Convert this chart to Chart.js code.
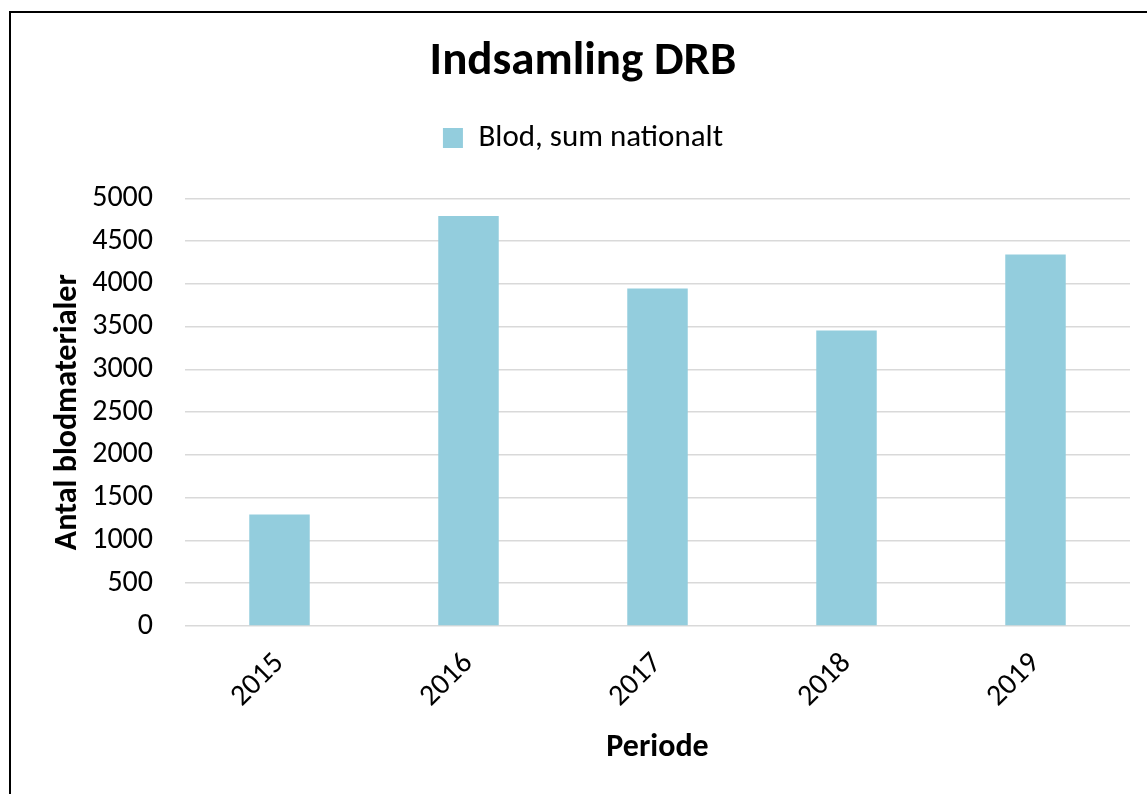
<!DOCTYPE html>
<html>
<head>
<meta charset="utf-8">
<script src="https://cdn.jsdelivr.net/npm/chart.js@4.4.1/dist/chart.umd.min.js"></script>
<style>
  html, body { margin: 0; padding: 0; background: #fff; overflow: hidden; }
  #wrap { position: relative; width: 1147px; height: 794px; }
  #frame { position: absolute; left: 9px; top: 11px; width: 1300px; height: 900px;
           border-left: 2px solid #000; border-top: 2px solid #000; pointer-events: none; }
  canvas { position: absolute; left: 0; top: 0; }
</style>
</head>
<body>
<div id="wrap">
  <canvas id="myChart" width="1147" height="794"></canvas>
  <div id="frame"></div>
</div>
<script>
// chart data
var years = ['2015', '2016', '2017', '2018', '2019'];
var blodSum = [1305, 4795, 3945, 3455, 4345];
var yTicks = [0, 500, 1000, 1500, 2000, 2500, 3000, 3500, 4000, 4500, 5000];

var fontFam = "Carlito, Calibri, Lato, sans-serif";

// extra space under the legend
var legendGap = {
    id: 'legendGap',
    beforeInit: function(chart) {
        var fit = chart.legend.fit;
        chart.legend.fit = function() {
            fit.bind(chart.legend)();
            this.height += 35;
        };
    }
};

var ctx = document.getElementById('myChart').getContext('2d');
var myChart = new Chart(ctx, {
    type: 'bar',
    data: {
        labels: years,
        datasets: [{
            label: 'Blod, sum nationalt',
            data: blodSum,
            backgroundColor: '#93cddd',
            borderWidth: 0,
            barPercentage: 0.32,
            categoryPercentage: 1
        }]
    },
    options: {
        responsive: false,
        animation: false,
        layout: { padding: { left: 36, right: 17, top: 0, bottom: 0 } },
        plugins: {
            title: {
                display: true,
                text: 'Indsamling DRB',
                color: '#000',
                font: { family: fontFam, size: 47, weight: 'bold' },
                padding: { top: 34, bottom: 22 }
            },
            legend: {
                display: true,
                labels: {
                    color: '#000',
                    font: { family: fontFam, size: 31 },
                    boxWidth: 20,
                    boxHeight: 20,
                    padding: 10
                }
            },
            tooltip: { enabled: false }
        },
        scales: {
            x: {
                grid: { display: false },
                border: { display: false },
                ticks: {
                    color: '#000',
                    font: { family: fontFam, size: 30 },
                    minRotation: 45,
                    maxRotation: 45,
                    padding: 12
                },
                title: {
                    display: true,
                    text: 'Periode',
                    color: '#000',
                    font: { family: fontFam, size: 32, weight: 'bold' },
                    padding: { top: 0, bottom: 27 }
                },
                afterFit: function(scale) { scale.height = 168; }
            },
            y: {
                min: 0,
                max: 5000,
                afterBuildTicks: function(scale) {
                    scale.ticks = yTicks.map(function(v) { return { value: v }; });
                },
                grid: { color: '#d9d9d9', lineWidth: 1.5, drawTicks: false },
                border: { display: false },
                ticks: {
                    color: '#000',
                    font: { family: fontFam, size: 30 },
                    padding: 32,
                    callback: function(v) { return String(v); }
                },
                title: {
                    display: true,
                    text: 'Antal blodmaterialer',
                    color: '#000',
                    font: { family: fontFam, size: 32, weight: 'bold' },
                    padding: { top: 13, bottom: 0 }
                },
                afterFit: function(scale) { scale.width = 149; }
            }
        }
    },
    plugins: [legendGap]
});
</script>
</body>
</html>
